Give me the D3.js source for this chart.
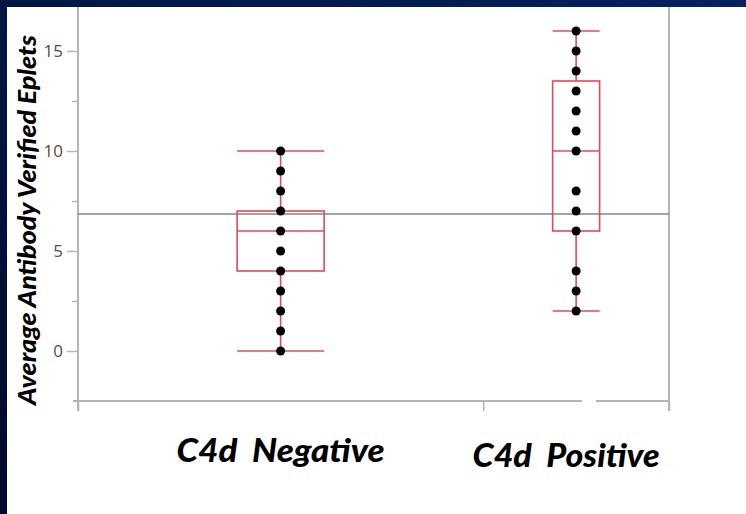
<!DOCTYPE html>
<html>
<head>
<meta charset="utf-8">
<script src="https://cdn.jsdelivr.net/npm/d3@7"></script>
<style>
  html, body { margin: 0; padding: 0; background: #02123d; }
  svg { display: block; }
  .ytick text { font-family: "Open Sans", "Noto Sans", sans-serif; font-size: 17px; fill: #5e4c3c; }
</style>
</head>
<body>
<div id="chart"></div>
<script>
// the data
const groups = ['C4d  Negative', 'C4d  Positive']
const groupCounts = [24, 11]
const negValues = [0, 1, 2, 3, 4, 5, 6, 7, 8, 9, 10]
const posValues = [2, 3, 4, 6, 7, 8, 10, 11, 12, 13, 14, 15, 16]
const whiskerLow = [0, 2]
const quartile1 = [4, 6]
const medians = [6, 10]
const quartile3 = [7, 13.5]
const whiskerHigh = [10, 16]
const grandMean = 6.85
const yTicks = [0, 5, 10, 15]
const yMinorTicks = [2.5, 7.5, 12.5]
const yTitle = 'Average Antibody Verified Eplets'

// canvas
const width = 746,
  height = 514
const plotLeft = 78, plotRight = 669, plotTop = 7, plotBottom = 401
const red = '#e8475b', axisGrey = '#b4b4b4'
const boxHalf = [43.5, 23.5]

let svg = d3.select('#chart')
  .append('svg')
  .attr('width', width)
  .attr('height', height)

// navy slide background + white picture
let defs = svg.append('defs')
let grad = defs.append('linearGradient').attr('id', 'bg')
  .attr('x1', '0').attr('y1', '1').attr('x2', '1').attr('y2', '0')
grad.append('stop').attr('offset', '0').attr('stop-color', '#010a2a')
grad.append('stop').attr('offset', '1').attr('stop-color', '#04225f')
svg.append('rect').attr('width', width).attr('height', height).attr('fill', 'url(#bg)')
svg.append('rect').attr('x', 7).attr('y', 7)
  .attr('width', width - 7).attr('height', height - 7).attr('fill', '#fff')

// scales
let total = d3.sum(groupCounts)
let starts = groupCounts.map((n, i) => d3.sum(groupCounts.slice(0, i)))
let x = d3.scaleLinear().domain([0, total]).range([plotLeft, plotRight])
let y = d3.scaleLinear().domain([-2.5, 17.2]).range([plotBottom, plotTop])
let cx = i => x(starts[i] + groupCounts[i] / 2)

// y axis
let yAxis = d3.axisLeft(y).tickValues(yTicks).tickSize(11).tickPadding(4)
let yg = svg.append('g').attr('class', 'ytick')
  .attr('transform', `translate(${plotLeft},0)`).call(yAxis)
yg.select('.domain').remove()
yg.selectAll('line').attr('stroke', axisGrey).attr('stroke-width', 1.5)

let yMinor = d3.axisLeft(y).tickValues(yMinorTicks).tickSize(6).tickFormat('')
let ym = svg.append('g').attr('transform', `translate(${plotLeft},0)`).call(yMinor)
ym.select('.domain').remove()
ym.selectAll('line').attr('stroke', axisGrey).attr('stroke-width', 1.5)

svg.append('line')
  .attr('x1', plotLeft).attr('x2', plotLeft)
  .attr('y1', plotTop).attr('y2', plotBottom + 10)
  .attr('stroke', axisGrey).attr('stroke-width', 2)
svg.append('line')
  .attr('x1', plotRight).attr('x2', plotRight)
  .attr('y1', plotTop).attr('y2', plotBottom + 10)
  .attr('stroke', axisGrey).attr('stroke-width', 2)

// x axis: only the group boundary ticks
let xAxis = d3.axisBottom(x).tickValues([0, starts[1], total]).tickSize(10).tickFormat('')
let xg = svg.append('g').attr('transform', `translate(0,${plotBottom})`).call(xAxis)
xg.select('.domain').remove()
xg.selectAll('line').attr('stroke', axisGrey).attr('stroke-width', 1.5)
svg.append('line')
  .attr('x1', plotLeft - 5).attr('x2', plotRight)
  .attr('y1', plotBottom).attr('y2', plotBottom)
  .attr('stroke', axisGrey).attr('stroke-width', 2)
// little white patch over the axis line, as in the slide
svg.append('rect').attr('x', 582).attr('y', plotBottom - 3)
  .attr('width', 14).attr('height', 6).attr('fill', '#fff')

// grand mean line
svg.append('line')
  .attr('x1', plotLeft).attr('x2', plotRight)
  .attr('y1', y(grandMean)).attr('y2', y(grandMean))
  .attr('stroke', '#858585').attr('stroke-width', 1.5)

// box plots
let boxes = svg.append('g').attr('fill', 'none').attr('stroke', red).attr('stroke-width', 1.6)
groups.forEach((g, i) => {
  let c = cx(i), h = boxHalf[i]
  boxes.append('rect')
    .attr('x', c - h).attr('width', 2 * h)
    .attr('y', y(quartile3[i])).attr('height', y(quartile1[i]) - y(quartile3[i]))
  boxes.append('line').attr('x1', c - h).attr('x2', c + h)
    .attr('y1', y(medians[i])).attr('y2', y(medians[i]))
  boxes.append('line').attr('x1', c).attr('x2', c)
    .attr('y1', y(quartile3[i])).attr('y2', y(whiskerHigh[i]))
  boxes.append('line').attr('x1', c).attr('x2', c)
    .attr('y1', y(quartile1[i])).attr('y2', y(whiskerLow[i]))
  boxes.append('line').attr('x1', c - h).attr('x2', c + h)
    .attr('y1', y(whiskerHigh[i])).attr('y2', y(whiskerHigh[i]))
  boxes.append('line').attr('x1', c - h).attr('x2', c + h)
    .attr('y1', y(whiskerLow[i])).attr('y2', y(whiskerLow[i]))
})

// points
;[negValues, posValues].forEach((vals, i) => {
  svg.append('g').selectAll('circle')
    .data(vals)
    .enter()
    .append('circle')
      .attr('cx', cx(i))
      .attr('cy', d => y(d))
      .attr('r', 4.5)
      .attr('fill', '#000')
})

// y title
svg.append('text')
  .attr('transform', `translate(36,${(35 + 405) / 2}) rotate(-90)`)
  .attr('text-anchor', 'middle')
  .attr('textLength', 370)
  .attr('lengthAdjust', 'spacingAndGlyphs')
  .style('font-family', 'Lato, "Open Sans", sans-serif')
  .style('font-size', '24px')
  .style('font-weight', 900)
  .style('font-style', 'italic')
  .text(yTitle)

// group labels under the chart
let labelDx = [0, -10], labelY = [462, 467], labelLen = [208, 187]
groups.forEach((g, i) => {
  svg.append('text')
    .attr('x', cx(i) + labelDx[i])
    .attr('y', labelY[i])
    .attr('text-anchor', 'middle')
    .attr('textLength', labelLen[i])
    .attr('lengthAdjust', 'spacingAndGlyphs')
    .style('font-family', 'Lato, "Open Sans", sans-serif')
    .style('font-size', '32px')
    .style('font-weight', 900)
    .style('font-style', 'italic')
    .style('white-space', 'pre')
    .text(g)
})
</script>
</body>
</html>
